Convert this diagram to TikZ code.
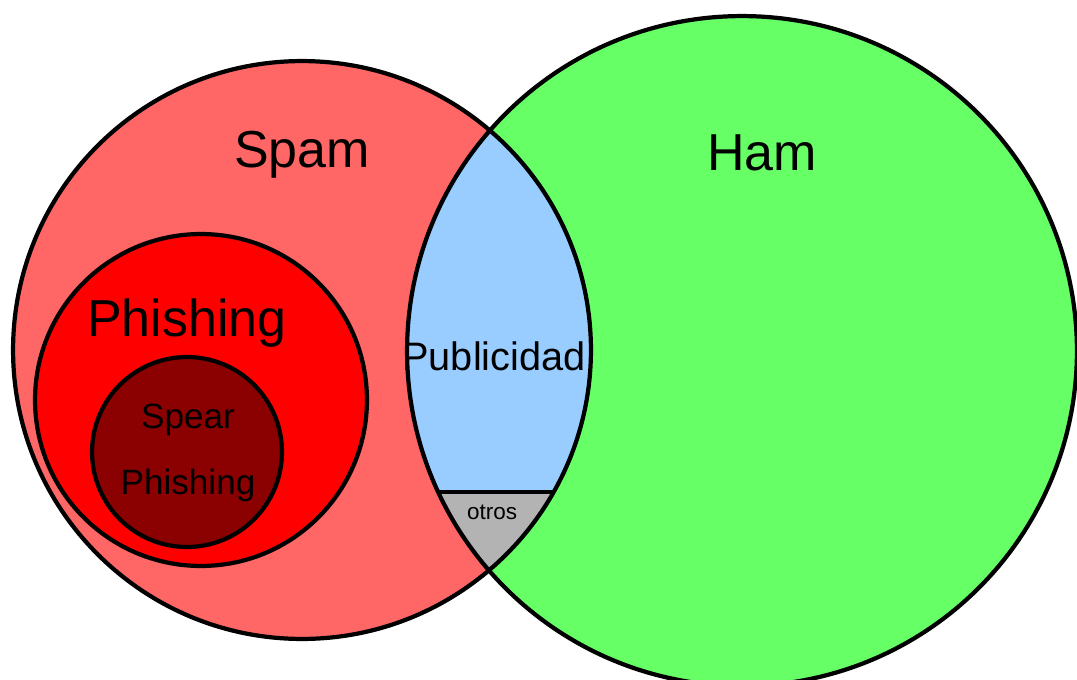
\documentclass[tikz,border=0pt]{standalone}
\usepackage{fontspec}
\setmainfont{Liberation Sans}
\usepackage{tikz}
\usetikzlibrary{positioning}

\definecolor{spamred}{RGB}{255,102,102}
\definecolor{hamgreen}{RGB}{102,255,102}
\definecolor{phishred}{RGB}{255,0,0}
\definecolor{spearred}{RGB}{139,0,0}
\definecolor{pubblue}{RGB}{153,204,255}
\definecolor{otrosgray}{RGB}{179,179,179}

\begin{document}
\begin{tikzpicture}[x=0.02cm, y=-0.02cm,
    setline/.style={draw=black, line width=2.4pt},
    bigtext/.style={font=\fontsize{29.6}{34}\selectfont, inner sep=0pt},
    midtext/.style={font=\fontsize{22.6}{26}\selectfont, inner sep=0pt},
    smalltext/.style={font=\fontsize{20}{24}\selectfont, inner sep=0pt},
    tinytext/.style={font=\fontsize{12.8}{15}\selectfont, inner sep=0pt}]

        \useasboundingbox (0,0) rectangle (1077,679);

        \coordinate (spam) at (302,350);
        \coordinate (ham) at (742,351);
        \coordinate (phish) at (201,400);
        \coordinate (spear) at (187,452);

        % the two big sets
        \fill[spamred] (spam) circle [radius=5.78cm];
        \fill[hamgreen] (ham) circle [radius=6.70cm];

        % overlap: publicidad and otros
        \begin{scope}
            \clip (spam) circle [radius=5.78cm];
            \clip (ham) circle [radius=6.70cm];
            \fill[pubblue] (350,0) rectangle (650,679);
            \fill[otrosgray] (350,492) rectangle (650,679);
            \draw[line width=2.4pt] (350,492) -- (650,492);
        \end{scope}

        \draw[setline] (spam) circle [radius=5.78cm];
        \draw[setline] (ham) circle [radius=6.70cm];

        % phishing inside spam
        \filldraw[setline, fill=phishred] (phish) circle [radius=3.32cm];
        \filldraw[setline, fill=spearred] (spear) circle [radius=1.90cm];

        \node[bigtext] (spamlbl) at (302,155) {Spam};
        \node[bigtext] (hamlbl) at (762,153) {Ham};
        \node[bigtext] (phishlbl) at (187,323) {Phishing};
        \node[midtext] (publbl) at (494,356) {Publicidad};
        \node[smalltext] (spearlbl) at (188,420) {Spear};
        \node[smalltext] (spearlbltwo) at (188,485) {Phishing};
        \node[tinytext] (otroslbl) at (492,512) {otros};
\end{tikzpicture}
\end{document}
